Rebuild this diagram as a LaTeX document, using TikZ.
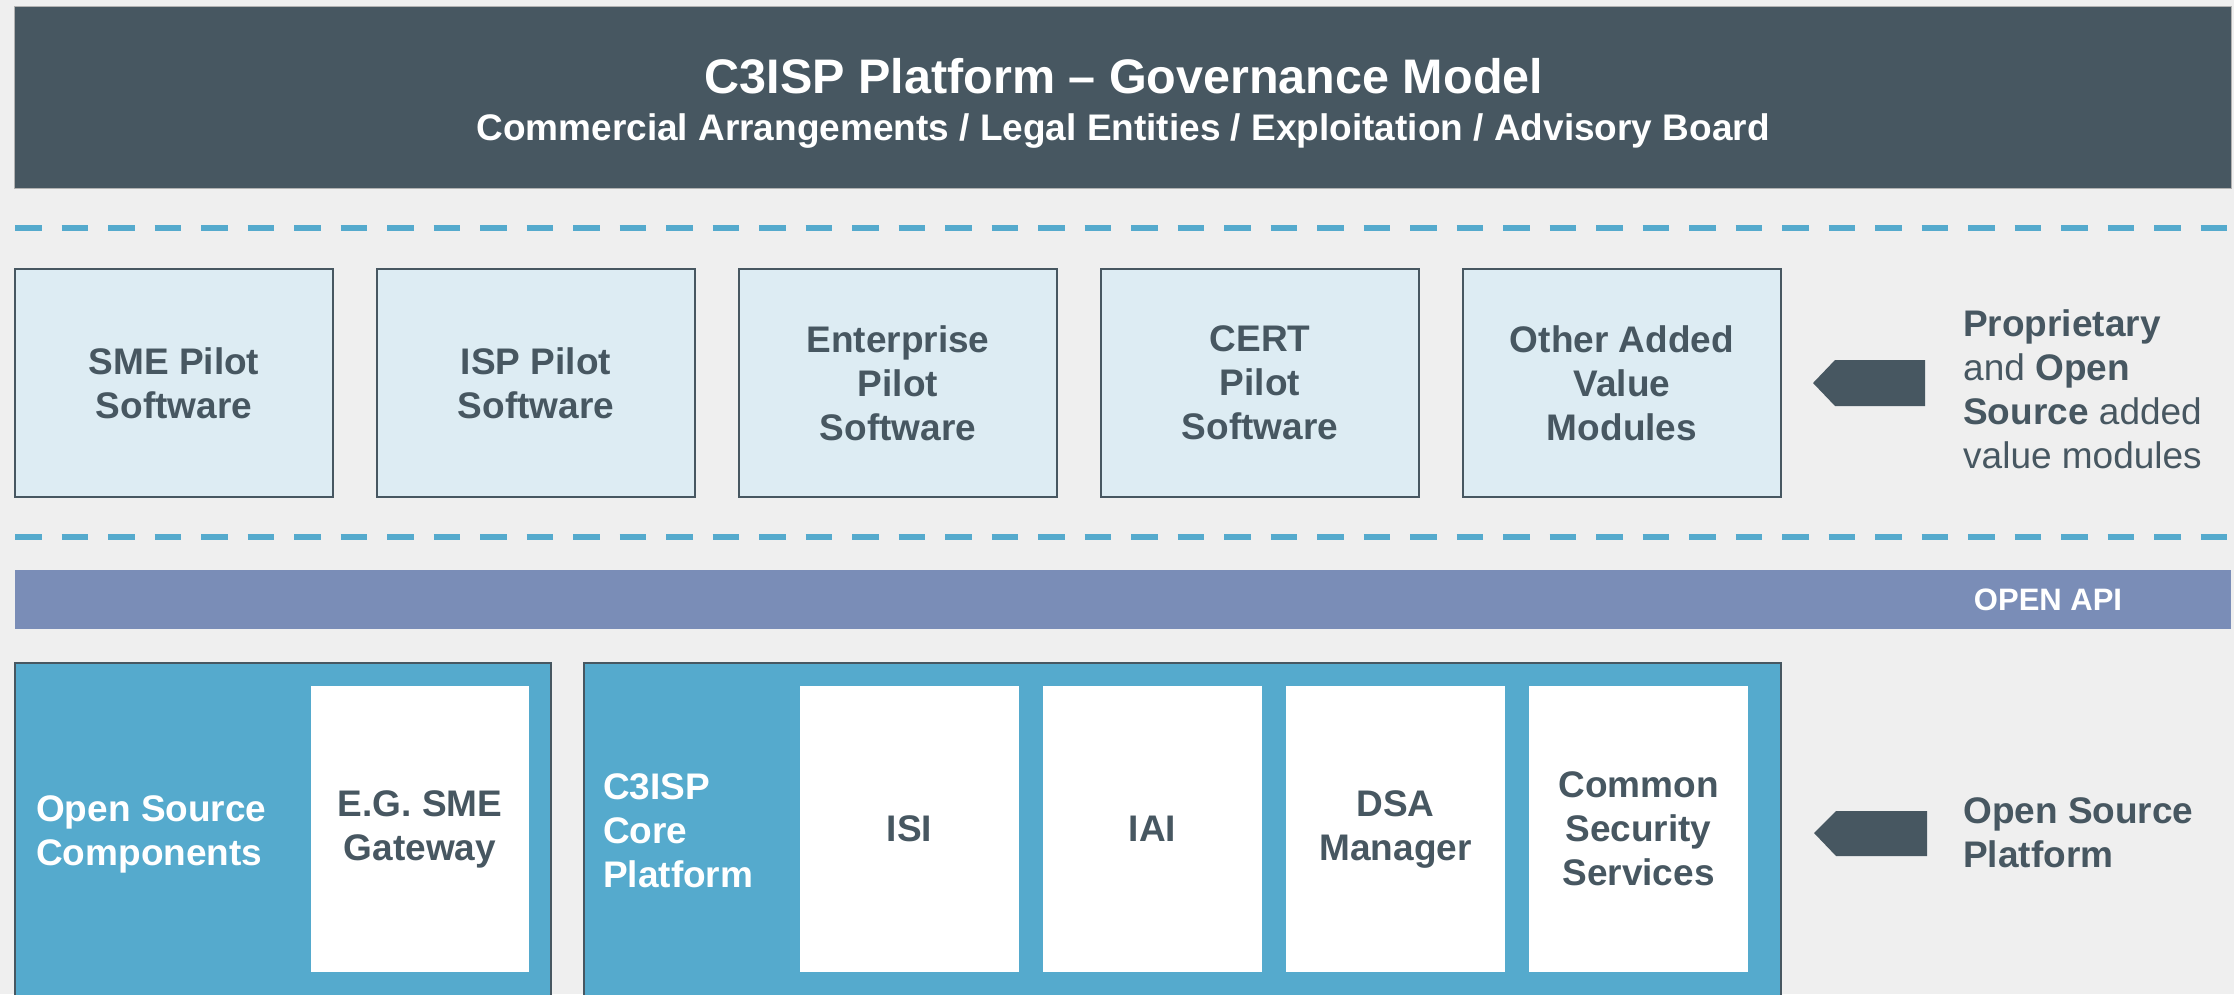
\documentclass[tikz,border=0pt]{standalone}
\usepackage{fontspec}
\setmainfont{Liberation Sans}
\usepackage{tikz}

\definecolor{bggray}{HTML}{EFEFEF}
\definecolor{slate}{HTML}{475761}
\definecolor{paleblue}{HTML}{DDECF3}
\definecolor{apiblue}{HTML}{7A8DB7}
\definecolor{coreblue}{HTML}{55AACD}

\begin{document}
\begin{tikzpicture}[x=1pt,y=-1pt,
    pilotbox/.style={draw=slate, line width=2pt, fill=paleblue, text=slate,
        align=center, inner sep=0, minimum width=318pt, minimum height=228pt,
        font=\fontsize{37}{44}\selectfont\bfseries},
    modulebox/.style={fill=white, text=slate, align=center, inner sep=0,
        minimum height=286pt, font=\fontsize{37}{44}\selectfont\bfseries},
    corebox/.style={draw=slate, line width=2pt, fill=coreblue, inner sep=0},
    sidenote/.style={anchor=west, align=left, inner sep=0, text=slate,
        font=\fontsize{37}{44}\selectfont},
    whitenote/.style={anchor=west, align=left, inner sep=0, text=white,
        font=\fontsize{37}{44}\selectfont\bfseries},
    sep/.style={coreblue, line width=6pt, dash pattern=on 26.5pt off 20pt}]
    % Draw the background
    \fill[bggray] (0,0) rectangle (2234,994);
    \useasboundingbox (0,0) rectangle (2234,994);
    % Draw the governance bar
    \node[fill=slate, draw=gray!60, inner sep=0, minimum width=2217pt,
        minimum height=182pt] (govbox) at (1122.5,97) {};
    \node[anchor=base, text=white, inner sep=0,
        font=\fontsize{48.5}{52}\selectfont\bfseries] (title) at (1124,93)
        {C3ISP Platform – Governance Model};
    \node[anchor=base, text=white, inner sep=0,
        font=\fontsize{37}{42}\selectfont\bfseries] (subtitle) at (1123,140)
        {Commercial Arrangements / Legal Entities / Exploitation / Advisory Board};
    % Draw the dashed separators
    \draw[sep] (15,228) -- (2234,228);
    \draw[sep] (15,537) -- (2234,537);
    % Draw the pilot software row
    \node[pilotbox] (sme) at (174,383) {SME Pilot\\Software};
    \node[pilotbox] (isp) at (536,383) {ISP Pilot\\Software};
    \node[pilotbox] (enterprise) at (898,383) {Enterprise\\Pilot\\Software};
    \node[pilotbox] (cert) at (1260,383) {CERT\\Pilot\\Software};
    \node[pilotbox] (other) at (1622,383) {Other Added\\Value\\Modules};
    % Draw the first pointer and its note
    \fill[slate] (1813,383) -- (1835,360) -- (1925,360) -- (1925,406)
        -- (1835,406) -- cycle;
    \node[sidenote] (propnote) at (1963,389)
        {\textbf{Proprietary}\\and \textbf{Open}\\\textbf{Source} added\\value modules};
    % Draw the open API bar
    \node[fill=apiblue, inner sep=0, minimum width=2216pt,
        minimum height=59pt] (apibar) at (1123,599.5) {};
    \node[anchor=base, text=white, inner sep=0,
        font=\fontsize{31}{36}\selectfont\bfseries] (apitext) at (2048,610)
        {OPEN API};
    % Draw the open source components
    \node[corebox, minimum width=536pt, minimum height=347pt] (osbox)
        at (283,836.5) {};
    \node[whitenote] (osnote) at (36,834) {Open Source\\Components};
    \node[modulebox, minimum width=218pt] (gateway) at (420,829)
        {E.G. SME\\Gateway};
    % Draw the core platform
    \node[corebox, minimum width=1197pt, minimum height=347pt] (corebox)
        at (1182.5,836.5) {};
    \node[whitenote] (corenote) at (603,831) {C3ISP\\Core\\Platform};
    \node[modulebox, minimum width=219pt] (isi) at (909.5,829) {ISI};
    \node[modulebox, minimum width=219pt] (iai) at (1152.5,829) {IAI};
    \node[modulebox, minimum width=219pt] (dsa) at (1395.5,829)
        {DSA\\Manager};
    \node[modulebox, minimum width=219pt] (css) at (1638.5,829)
        {Common\\Security\\Services};
    % Draw the second pointer and its note
    \fill[slate] (1814,833) -- (1836,811) -- (1927,811) -- (1927,856)
        -- (1836,856) -- cycle;
    \node[sidenote, font=\fontsize{37}{44}\selectfont\bfseries] (platnote)
        at (1963,833) {Open Source\\Platform};
\end{tikzpicture}
\end{document}
